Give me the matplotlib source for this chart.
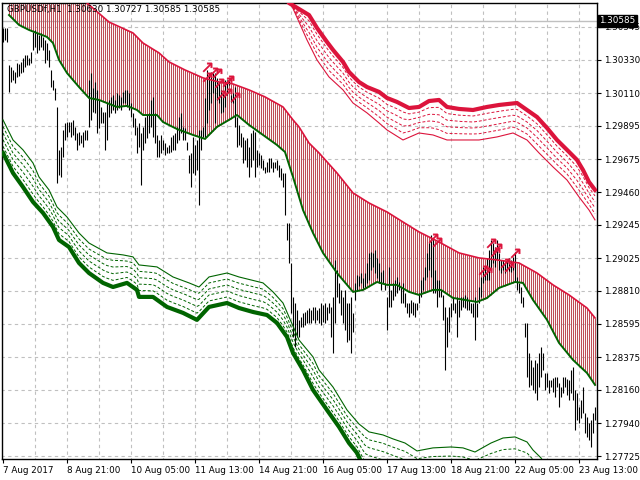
import matplotlib
matplotlib.use("Agg")
import matplotlib.pyplot as plt
import numpy as np

# hourly GBPUSD bars (high / low)
bar_high = [
    1.30538, 1.30538, 1.30538, 1.30295, 1.30282, 1.30262, 1.30249, 1.30308, 1.30302, 1.30315,
    1.30341, 1.30361, 1.30361, 1.30341, 1.30380, 1.30512, 1.30525, 1.30505, 1.30492, 1.30505,
    1.30479, 1.30459, 1.30439, 1.30394, 1.30262, 1.30196, 1.30144, 1.30019, 1.29737, 1.29756,
    1.29868, 1.29914, 1.29920, 1.29920, 1.29920, 1.29934, 1.29888, 1.29848, 1.29855, 1.29835,
    1.29855, 1.29868, 1.29868, 1.30196, 1.30242, 1.30144, 1.30183, 1.30131, 1.30065, 1.30019,
    1.29986, 1.29986, 1.30045, 1.30065, 1.30085, 1.30098, 1.30065, 1.30111, 1.30098, 1.30085,
    1.30118, 1.30131, 1.30131, 1.30111, 1.30045, 1.29980, 1.29947, 1.29888, 1.29914, 1.29848,
    1.29888, 1.29953, 1.29966, 1.29980, 1.30065,
    1.30085, 1.29980, 1.29835, 1.29802, 1.29835, 1.29802, 1.29782, 1.29756, 1.29769, 1.29822,
    1.29835, 1.29848, 1.29888, 1.29953, 1.29980, 1.29888, 1.29881, 1.29789, 1.29704, 1.29717,
    1.29822, 1.29769, 1.29802, 1.29868, 1.29868, 1.29888, 1.30078, 1.30262, 1.30242, 1.30249,
    1.30242, 1.30242, 1.30210, 1.30177, 1.30131, 1.30111, 1.30196, 1.30196, 1.30196, 1.30098,
    1.30111, 1.30150, 1.29953, 1.29901, 1.29848, 1.29822, 1.29802, 1.29815, 1.29756, 1.29848,
    1.29868, 1.29855, 1.29737, 1.29717, 1.29704, 1.29671, 1.29625, 1.29658, 1.29684, 1.29684,
    1.29658, 1.29658, 1.29671, 1.29638, 1.29618, 1.29585, 1.29585, 1.29257,
    1.29257, 1.28994, 1.28771, 1.28731, 1.28685, 1.28620, 1.28639, 1.28666, 1.28672, 1.28685,
    1.28698, 1.28685, 1.28705, 1.28705, 1.28685, 1.28698, 1.28731, 1.28718, 1.28731, 1.28705,
    1.28731, 1.28705, 1.28771, 1.29014, 1.28948, 1.28863, 1.28817, 1.28771, 1.28817, 1.28731,
    1.28731, 1.28771, 1.28666, 1.28863, 1.28915, 1.28909, 1.28928, 1.28896, 1.28928, 1.28994,
    1.29060, 1.29066, 1.29060, 1.29080, 1.29027, 1.28994, 1.28935, 1.28948, 1.28863, 1.28771,
    1.28968, 1.28817, 1.28863, 1.28882, 1.28902, 1.28869, 1.28836, 1.28863, 1.28797, 1.28731,
    1.28731, 1.28751, 1.28738, 1.28731, 1.28731, 1.28797, 1.28882,
    1.28902, 1.28968, 1.29060, 1.29125, 1.29178, 1.29145, 1.28948, 1.28882, 1.28882, 1.28817,
    1.28784, 1.28705, 1.28639, 1.28705, 1.28731, 1.28771, 1.28731, 1.28771, 1.28751, 1.28771,
    1.28771, 1.28784, 1.28771, 1.28751, 1.28731, 1.28731, 1.28771, 1.28731, 1.28836, 1.28902,
    1.28968, 1.28968, 1.29027, 1.29080, 1.29145, 1.29125, 1.29099, 1.29145, 1.29060, 1.29014,
    1.29014, 1.28994, 1.29014, 1.29027, 1.29014, 1.29034, 1.29066, 1.28902, 1.28863, 1.28836,
    1.28771, 1.28600, 1.28600, 1.28403, 1.28357, 1.28311, 1.28357, 1.28337, 1.28403, 1.28442,
    1.28403, 1.28271, 1.28271, 1.28225, 1.28225, 1.28239, 1.28245, 1.28245, 1.28206, 1.28179,
    1.28245, 1.28245, 1.28232, 1.28225, 1.28291, 1.28311, 1.28160, 1.28140, 1.28048, 1.28094,
    1.28179, 1.28009, 1.27982, 1.27943, 1.27963, 1.28009, 1.28048,
]
bar_low = [
    1.30446, 1.30459, 1.30446, 1.30118, 1.30183, 1.30196, 1.30177, 1.30216, 1.30223, 1.30242,
    1.30249, 1.30282, 1.30295, 1.30295, 1.30308, 1.30394, 1.30413, 1.30374, 1.30394, 1.30413,
    1.30394, 1.30308, 1.30328, 1.30282, 1.30150, 1.30131, 1.30065, 1.29520, 1.29572, 1.29559,
    1.29691, 1.29802, 1.29822, 1.29855, 1.29822, 1.29835, 1.29802, 1.29737, 1.29769, 1.29782,
    1.29756, 1.29802, 1.29802, 1.29888, 1.29934, 1.29986, 1.29980, 1.29848, 1.29881, 1.29914,
    1.29914, 1.29737, 1.29802, 1.29953, 1.29980, 1.29999, 1.29980, 1.29999, 1.30012, 1.29999,
    1.30045, 1.30045, 1.30019, 1.29999, 1.29953, 1.29888, 1.29835, 1.29717, 1.29756, 1.29507,
    1.29737, 1.29782, 1.29815, 1.29848, 1.29888,
    1.29822, 1.29782, 1.29691, 1.29691, 1.29717, 1.29737, 1.29704, 1.29717, 1.29717, 1.29723,
    1.29737, 1.29737, 1.29782, 1.29802, 1.29848, 1.29802, 1.29802, 1.29737, 1.29585, 1.29493,
    1.29585, 1.29572, 1.29605, 1.29375, 1.29737, 1.29822, 1.29822, 1.29914, 1.29999, 1.30045,
    1.30111, 1.29914, 1.30065, 1.30045, 1.29980, 1.29986, 1.30019, 1.30098, 1.30164, 1.30052,
    1.30045, 1.29888, 1.29756, 1.29769, 1.29756, 1.29651, 1.29671, 1.29625, 1.29559, 1.29625,
    1.29671, 1.29559, 1.29625, 1.29638, 1.29618, 1.29605, 1.29585, 1.29592, 1.29592, 1.29618,
    1.29592, 1.29618, 1.29605, 1.29559, 1.29539, 1.29493, 1.29309, 1.29145,
    1.28994, 1.28666, 1.28508, 1.28442, 1.28508, 1.28508, 1.28574, 1.28574, 1.28587, 1.28600,
    1.28600, 1.28600, 1.28620, 1.28600, 1.28620, 1.28600, 1.28587, 1.28607, 1.28600, 1.28620,
    1.28666, 1.28508, 1.28403, 1.28600, 1.28771, 1.28731, 1.28652, 1.28600, 1.28554, 1.28475,
    1.28488, 1.28403, 1.28541, 1.28751, 1.28817, 1.28843, 1.28863, 1.28830, 1.28836, 1.28863,
    1.28882, 1.28948, 1.28968, 1.28928, 1.28896, 1.28863, 1.28817, 1.28863, 1.28817, 1.28554,
    1.28705, 1.28705, 1.28751, 1.28777, 1.28797, 1.28817, 1.28731, 1.28731, 1.28705, 1.28666,
    1.28639, 1.28666, 1.28652, 1.28639, 1.28685, 1.28731, 1.28771,
    1.28817, 1.28882, 1.28902, 1.28948, 1.28902, 1.28797, 1.28797, 1.28705, 1.28771, 1.28771,
    1.28620, 1.28291, 1.28442, 1.28541, 1.28639, 1.28685, 1.28666, 1.28508, 1.28639, 1.28685,
    1.28705, 1.28698, 1.28685, 1.28685, 1.28666, 1.28639, 1.28488, 1.28639, 1.28731, 1.28771,
    1.28863, 1.28882, 1.28882, 1.28882, 1.28948, 1.28994, 1.28968, 1.29014, 1.28948, 1.28928,
    1.28948, 1.28928, 1.28948, 1.28942, 1.28935, 1.28948, 1.28869, 1.28817, 1.28797, 1.28731,
    1.28705, 1.28508, 1.28245, 1.28179, 1.28193, 1.28160, 1.28140, 1.28094, 1.28179, 1.28245,
    1.28291, 1.28160, 1.28179, 1.28140, 1.28179, 1.28147, 1.28114, 1.28179, 1.28048, 1.28114,
    1.28140, 1.28179, 1.28127, 1.28094, 1.28140, 1.28094, 1.27897, 1.27963, 1.27943, 1.27976,
    1.28009, 1.27877, 1.27851, 1.27831, 1.27785, 1.27877, 1.27963,
]

# upper (red) and lower (green) envelope lines, bar index -> price
red_ma_idx = [28, 42, 53, 65, 70, 78, 83, 91, 100, 108, 115, 123, 131, 140, 145, 148, 153,
              158, 167, 175, 183, 192, 200, 208, 218, 228, 238, 247, 258, 267, 275, 283, 292, 296]
red_ma = [1.30821, 1.30702, 1.30577, 1.30505, 1.30439, 1.30374, 1.30315, 1.30262, 1.30210,
          1.30183, 1.30170, 1.30131, 1.30085, 1.30019, 1.29934, 1.29888, 1.29782, 1.29717,
          1.29585, 1.29454, 1.29388, 1.29329, 1.29263, 1.29198, 1.29132, 1.29060, 1.29027,
          1.29014, 1.28994, 1.28928, 1.28850, 1.28784, 1.28698, 1.28633]
green_ma_idx = [3, 8, 13, 22, 25, 28, 32, 38, 43, 48, 57, 62, 67, 70, 77, 80, 87, 95, 101,
                107, 113, 117, 123, 130, 137, 141, 145, 150, 155, 160, 167, 175, 180, 187,
                192, 197, 203, 208, 215, 219, 225, 237, 242, 248, 256, 260, 265, 272, 278,
                285, 292, 296]
green_ma = [1.30623, 1.30558, 1.30525, 1.30479, 1.30439, 1.30328, 1.30242, 1.30150, 1.30078,
            1.30065, 1.30019, 1.30026, 1.29999, 1.29966, 1.29966, 1.29920, 1.29874, 1.29835,
            1.29809, 1.29888, 1.29934, 1.29966, 1.29901, 1.29835, 1.29769, 1.29723, 1.29559,
            1.29342, 1.29191, 1.29060, 1.28928, 1.28804, 1.28817, 1.28869, 1.28850, 1.28850,
            1.28804, 1.28784, 1.28817, 1.28817, 1.28764, 1.28738, 1.28764, 1.28830, 1.28869,
            1.28863, 1.28751, 1.28620, 1.28469, 1.28357, 1.28271, 1.28193]

# upper red channel: thick edge and thin edge
red_thick_idx = [139, 143, 153, 157, 162, 165, 170, 173, 178, 182, 188, 192, 197, 203, 208,
                 213, 218, 222, 228, 235, 242, 248, 257, 262, 267, 272, 277, 282, 287, 290,
                 293, 296]
red_thick = [1.30788, 1.30702, 1.30623, 1.30538, 1.30446, 1.30394, 1.30315, 1.30249, 1.30183,
             1.30150, 1.30118, 1.30078, 1.30052, 1.30012, 1.30019, 1.30058, 1.30065, 1.30019,
             1.30006, 1.29999, 1.30019, 1.30032, 1.30045, 1.29999, 1.29953, 1.29881, 1.29802,
             1.29737, 1.29671, 1.29605, 1.29526, 1.29474]
red_thin_idx = [142, 152, 157, 163, 170, 175, 182, 188, 192, 200, 208, 215, 222, 230, 238,
                247, 255, 262, 268, 275, 282, 288, 293, 296]
red_thin = [1.30755, 1.30459, 1.30328, 1.30216, 1.30131, 1.30045, 1.29980, 1.29914, 1.29868,
            1.29802, 1.29848, 1.29835, 1.29802, 1.29802, 1.29802, 1.29822, 1.29848, 1.29802,
            1.29717, 1.29625, 1.29539, 1.29428, 1.29342, 1.29277]

# lower green channel: thick edge and thin edge
green_thick_idx = [0, 5, 10, 15, 20, 25, 28, 33, 38, 43, 50, 55, 62, 67, 68, 75, 82, 90, 97,
                   103, 112, 118, 125, 132, 137, 142, 145, 150, 155, 162, 168, 173, 177, 181,
                   208, 240, 273]
green_thick = [1.29717, 1.29585, 1.29493, 1.29395, 1.29323, 1.29231, 1.29145, 1.29099, 1.28994,
               1.28928, 1.28863, 1.28836, 1.28863, 1.28817, 1.28771, 1.28771, 1.28705, 1.28666,
               1.28620, 1.28705, 1.28731, 1.28698, 1.28672, 1.28652, 1.28600, 1.28508, 1.28403,
               1.28291, 1.28160, 1.28028, 1.27917, 1.27811, 1.27746, 1.27634, 1.27503, 1.27470,
               1.27450]
green_thin_idx = [0, 5, 10, 15, 18, 23, 27, 32, 38, 43, 52, 60, 65, 68, 77, 85, 93, 98, 103,
                  112, 118, 130, 135, 140, 148, 155, 158, 165, 172, 178, 183, 190, 195, 201,
                  207, 215, 224, 230, 236, 244, 250, 256, 262, 265, 269, 273]
green_thin = [1.29934, 1.29802, 1.29737, 1.29651, 1.29559, 1.29474, 1.29362, 1.29296, 1.29191,
              1.29125, 1.29060, 1.29047, 1.29034, 1.28981, 1.28968, 1.28902, 1.28863, 1.28836,
              1.28902, 1.28928, 1.28902, 1.28863, 1.28804, 1.28731, 1.28488, 1.28377, 1.28291,
              1.28179, 1.28028, 1.27936, 1.27884, 1.27864, 1.27838, 1.27811, 1.27759, 1.27779,
              1.27785, 1.27779, 1.27752, 1.27811, 1.27844, 1.27851, 1.27818, 1.27765, 1.27713,
              1.27634]

# arrow signals
signal_idx = [102, 105, 107, 102, 108, 112, 109, 112, 116, 113, 215, 217, 244, 247, 246, 240,
              242, 251, 253, 256]
signal_price = [1.30282, 1.30249, 1.30242, 1.30216, 1.30177, 1.30183, 1.30098, 1.30111,
                1.30085, 1.30196, 1.29158, 1.29132, 1.29125, 1.29093, 1.29066, 1.28948,
                1.28935, 1.28994, 1.28968, 1.29060]

price_levels = [1.30545, 1.30330, 1.30110, 1.29895, 1.29675, 1.29460, 1.29245, 1.29025,
                1.28810, 1.28595, 1.28375, 1.28160, 1.27940, 1.27725]
time_labels = ["7 Aug 2017", "8 Aug 21:00", "10 Aug 05:00", "11 Aug 13:00", "14 Aug 21:00",
               "16 Aug 05:00", "17 Aug 13:00", "18 Aug 21:00", "22 Aug 05:00", "23 Aug 13:00"]
last_price = 1.30585
header = "GBPUSDf,H1  1.30630 1.30727 1.30585 1.30585"

RED = "#DC143C"
GREEN = "#006400"
FS = 6.3

fig = plt.figure(figsize=(6.4, 4.8), dpi=100)
ax = fig.add_axes([2 / 640, 21 / 480, 595 / 640, 456 / 480])
ax.set_xlim(-0.5, 297)
ax.set_ylim(1.27706, 1.30702)

n = len(bar_high)
bars = np.arange(n)

# grid
grid_x = np.arange(16, n, 16)
ax.vlines(grid_x, 1.27, 1.31, colors="#C0C0C0", linestyles=(0, (3, 3)), lw=0.8, zorder=0)
ax.hlines(price_levels, -1, n + 1, colors="#C0C0C0", linestyles=(0, (3, 3)), lw=0.8, zorder=0)
ax.axhline(last_price, color="#C0C0C0", lw=1.0, zorder=0.5)

# striped fill between envelope lines
top = np.interp(bars, red_ma_idx, red_ma)
bot = np.interp(bars, green_ma_idx, green_ma, left=np.nan)
ok = ~np.isnan(bot)
ax.vlines(bars[ok], bot[ok], top[ok], colors="#BE4C56", lw=0.75, zorder=1)

# price bars
ax.vlines(bars, bar_low, bar_high, colors="black", lw=0.8, zorder=2)

ax.plot(red_ma_idx, red_ma, color=RED, lw=1.2, zorder=3)
ax.plot(green_ma_idx, green_ma, color=GREEN, lw=1.4, zorder=3)

# red channel
g = np.arange(142, n)
thin = np.interp(g, red_thin_idx, red_thin)
thick = np.interp(g, red_thick_idx, red_thick)
for f in (0.2, 0.4, 0.6, 0.8):
    ax.plot(g, thin + f * (thick - thin), color=RED, lw=0.7, ls=(0, (3, 2)), zorder=2)
ax.plot(red_thin_idx, red_thin, color=RED, lw=0.8, zorder=3)
ax.plot(red_thick_idx, red_thick, color=RED, lw=3.0, zorder=3)

# green channel
g = np.arange(0, 274)
thin = np.interp(g, green_thin_idx, green_thin)
thick = np.interp(g, green_thick_idx, green_thick)
for f in (0.2, 0.4, 0.6, 0.8):
    ax.plot(g, thin + f * (thick - thin), color=GREEN, lw=0.7, ls=(0, (3, 2)), zorder=2)
ax.plot(green_thin_idx, green_thin, color=GREEN, lw=0.8, zorder=3)
ax.plot(green_thick_idx, green_thick, color=GREEN, lw=3.0, zorder=3)

ax.scatter(signal_idx, signal_price, marker="$\u2197$", s=45, c=RED, lw=0.3, zorder=4)

# axes
for s in ax.spines.values():
    s.set_color("black")
    s.set_linewidth(1.0)
ax.yaxis.tick_right()
ax.set_yticks(price_levels)
ax.set_yticklabels([f"{v:.5f}" for v in price_levels])
ax.set_xticks(np.arange(0, n, 32))
ax.set_xticklabels(time_labels, ha="left")
ax.tick_params(axis="both", direction="out", length=3, width=0.8, labelsize=FS, colors="black")
ax.tick_params(axis="y", pad=2)
ax.tick_params(axis="x", pad=2)

ax.text(1.004, last_price, f"{last_price:.5f}", transform=ax.get_yaxis_transform(),
        ha="left", va="center", color="white", fontsize=FS,
        bbox=dict(boxstyle="square,pad=0.2", fc="black", ec="black"), zorder=6, clip_on=False)
ax.text(0.009, 0.985, header, transform=ax.transAxes, ha="left", va="center",
        fontsize=FS, color="black", zorder=6)

fig.savefig("out.png", dpi=100)
